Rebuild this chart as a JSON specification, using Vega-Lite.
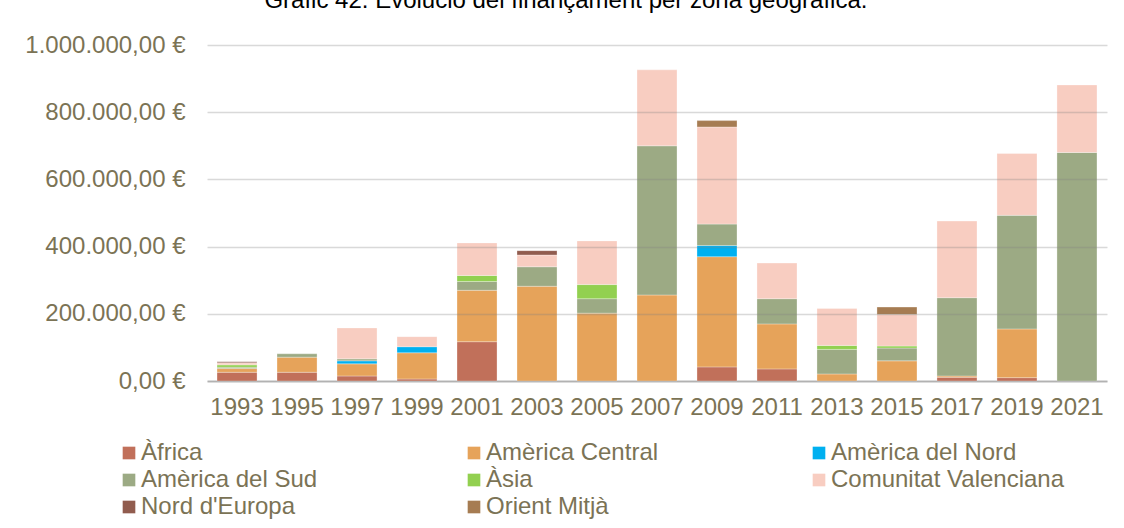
{
  "$schema": "https://vega.github.io/schema/vega-lite/v6.json",
  "autosize": {"type": "none"},
  "width": 900,
  "height": 336,
  "padding": {"left": 207, "top": 45, "right": 17, "bottom": 147},
  "background": "#ffffff",
  "title": {
    "text": "Gràfic 42. Evolució del finançament per zona geogràfica.",
    "anchor": "middle",
    "frame": "bounds",
    "offset": 5,
    "dy": 9,
    "baseline": "bottom",
    "font": "Liberation Sans",
    "fontSize": 24,
    "fontWeight": "normal",
    "color": "#000000"
  },
  "config": {
    "locale": {
      "number": {"decimal": ",", "thousands": ".", "grouping": [3], "currency": ["", " €"]}
    },
    "view": {"stroke": null},
    "font": "Liberation Sans"
  },
  "data": {
    "values": [
      {"year": "1993", "region": "Àfrica", "value": 26000},
      {"year": "1993", "region": "Amèrica Central", "value": 11000},
      {"year": "1993", "region": "Amèrica del Sud", "value": 4000},
      {"year": "1993", "region": "Àsia", "value": 7000},
      {"year": "1993", "region": "Comunitat Valenciana", "value": 6000},
      {"year": "1993", "region": "Nord d'Europa", "value": 3000},
      {"year": "1995", "region": "Àfrica", "value": 26000},
      {"year": "1995", "region": "Amèrica Central", "value": 45000},
      {"year": "1995", "region": "Amèrica del Sud", "value": 10000},
      {"year": "1997", "region": "Àfrica", "value": 15000},
      {"year": "1997", "region": "Amèrica Central", "value": 36000},
      {"year": "1997", "region": "Amèrica del Nord", "value": 9000},
      {"year": "1997", "region": "Amèrica del Sud", "value": 6000},
      {"year": "1997", "region": "Comunitat Valenciana", "value": 92000},
      {"year": "1999", "region": "Àfrica", "value": 6000},
      {"year": "1999", "region": "Amèrica Central", "value": 78000},
      {"year": "1999", "region": "Amèrica del Nord", "value": 18000},
      {"year": "1999", "region": "Comunitat Valenciana", "value": 30000},
      {"year": "2001", "region": "Àfrica", "value": 117000},
      {"year": "2001", "region": "Amèrica Central", "value": 153000},
      {"year": "2001", "region": "Amèrica del Sud", "value": 26000},
      {"year": "2001", "region": "Àsia", "value": 18000},
      {"year": "2001", "region": "Comunitat Valenciana", "value": 97000},
      {"year": "2003", "region": "Amèrica Central", "value": 282000},
      {"year": "2003", "region": "Amèrica del Sud", "value": 58000},
      {"year": "2003", "region": "Comunitat Valenciana", "value": 35000},
      {"year": "2003", "region": "Nord d'Europa", "value": 13000},
      {"year": "2005", "region": "Amèrica Central", "value": 202000},
      {"year": "2005", "region": "Amèrica del Sud", "value": 43000},
      {"year": "2005", "region": "Àsia", "value": 42000},
      {"year": "2005", "region": "Comunitat Valenciana", "value": 130000},
      {"year": "2007", "region": "Amèrica Central", "value": 256000},
      {"year": "2007", "region": "Amèrica del Sud", "value": 444000},
      {"year": "2007", "region": "Comunitat Valenciana", "value": 226000},
      {"year": "2009", "region": "Àfrica", "value": 42000},
      {"year": "2009", "region": "Amèrica Central", "value": 328000},
      {"year": "2009", "region": "Amèrica del Nord", "value": 33000},
      {"year": "2009", "region": "Amèrica del Sud", "value": 64000},
      {"year": "2009", "region": "Comunitat Valenciana", "value": 289000},
      {"year": "2009", "region": "Orient Mitjà", "value": 19000},
      {"year": "2011", "region": "Àfrica", "value": 36000},
      {"year": "2011", "region": "Amèrica Central", "value": 134000},
      {"year": "2011", "region": "Amèrica del Sud", "value": 75000},
      {"year": "2011", "region": "Comunitat Valenciana", "value": 106000},
      {"year": "2013", "region": "Amèrica Central", "value": 21000},
      {"year": "2013", "region": "Amèrica del Sud", "value": 73000},
      {"year": "2013", "region": "Àsia", "value": 12000},
      {"year": "2013", "region": "Comunitat Valenciana", "value": 110000},
      {"year": "2015", "region": "Amèrica Central", "value": 60000},
      {"year": "2015", "region": "Amèrica del Sud", "value": 38000},
      {"year": "2015", "region": "Àsia", "value": 6000},
      {"year": "2015", "region": "Comunitat Valenciana", "value": 94000},
      {"year": "2015", "region": "Orient Mitjà", "value": 22000},
      {"year": "2017", "region": "Àfrica", "value": 11000},
      {"year": "2017", "region": "Amèrica Central", "value": 4000},
      {"year": "2017", "region": "Amèrica del Sud", "value": 233000},
      {"year": "2017", "region": "Comunitat Valenciana", "value": 228000},
      {"year": "2019", "region": "Àfrica", "value": 10000},
      {"year": "2019", "region": "Amèrica Central", "value": 145000},
      {"year": "2019", "region": "Amèrica del Sud", "value": 338000},
      {"year": "2019", "region": "Comunitat Valenciana", "value": 184000},
      {"year": "2021", "region": "Amèrica del Sud", "value": 680000},
      {"year": "2021", "region": "Comunitat Valenciana", "value": 201000}
    ]
  },
  "transform": [
    {"calculate": "indexof(['Àfrica', 'Amèrica Central', 'Amèrica del Nord', 'Amèrica del Sud', 'Àsia', 'Comunitat Valenciana', \"Nord d'Europa\", 'Orient Mitjà'], datum.region)", "as": "stackOrder"}
  ],
  "mark": {"type": "bar", "stroke": "#ffffff", "strokeWidth": 0.6, "strokeOpacity": 0.5},
  "encoding": {
    "x": {
      "field": "year",
      "type": "ordinal",
      "scale": {"paddingInner": 0.333, "paddingOuter": 0.167},
      "axis": {
        "title": null,
        "labelAngle": 0,
        "labelFontSize": 24,
        "labelColor": "#7b7355",
        "labelPadding": 14,
        "ticks": false,
        "domainColor": "#c8c8c8",
        "domainWidth": 2
      }
    },
    "y": {
      "field": "value",
      "type": "quantitative",
      "stack": "zero",
      "scale": {"domain": [0, 1000000], "nice": false},
      "axis": {
        "title": null,
        "values": [0, 200000, 400000, 600000, 800000, 1000000],
        "format": "$,.2f",
        "labelFontSize": 24,
        "labelColor": "#7b7355",
        "labelPadding": 22,
        "ticks": false,
        "domain": false,
        "grid": true,
        "gridColor": "#808080",
        "gridOpacity": 0.3,
        "gridWidth": 1.5,
        "zindex": 1
      }
    },
    "color": {
      "field": "region",
      "type": "nominal",
      "scale": {
        "domain": ["Àfrica", "Amèrica Central", "Amèrica del Nord", "Amèrica del Sud", "Àsia", "Comunitat Valenciana", "Nord d'Europa", "Orient Mitjà"],
        "range": ["#c1705a", "#e6a35a", "#00b0f0", "#9caa84", "#92d050", "#f8cdc1", "#915c4e", "#a67c52"]
      },
      "legend": {
        "title": null,
        "orient": "none",
        "direction": "horizontal",
        "legendX": -90,
        "legendY": 396,
        "columns": 3,
        "gridAlign": "all",
        "columnPadding": 87,
        "rowPadding": 3,
        "padding": 0,
        "symbolType": "square",
        "symbolSize": 160,
        "symbolStrokeWidth": 0,
        "labelFontSize": 24,
        "labelColor": "#7b7355",
        "labelOffset": 0,
        "labelLimit": 400
      }
    },
    "order": {"field": "stackOrder", "type": "quantitative", "sort": "ascending"}
  }
}
